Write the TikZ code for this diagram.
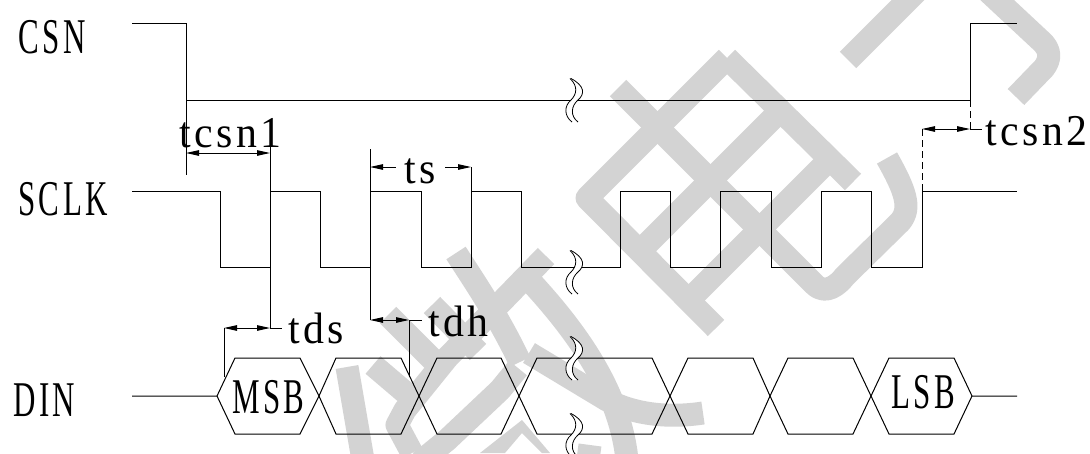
\documentclass[tikz,border=0pt]{standalone}
\usepackage{fontspec}
\usetikzlibrary{arrows.meta}
\newfontfamily\wavefont[FakeStretch=0.62,LetterSpace=7]{Liberation Serif}
\newfontfamily\namefont[FakeStretch=0.95,LetterSpace=8]{Liberation Serif}
\newcommand{\biglabel}{\wavefont\fontsize{50}{50}\selectfont}
\newcommand{\timelabel}{\namefont\fontsize{44}{44}\selectfont}
\definecolor{wmgray}{RGB}{211,211,211}

\begin{document}
\begin{tikzpicture}[
    x=1pt,
    y=-1pt,
    >={Triangle[length=13pt,width=5.5pt]},
    signal/.style={line width=1pt, line join=miter},
    helper/.style={line width=1pt},
    helperdash/.style={line width=1pt, dash pattern=on 7pt off 4pt},
    timing/.style={line width=1pt, <->},
    squiggle/.style={line width=0.8pt},
    wmstroke/.style={line width=23pt, draw=wmgray, line join=round},
    siglabel/.style={anchor=base west, inner sep=0, font=\biglabel},
    tlabel/.style={anchor=base west, inner sep=0, font=\timelabel}
    ]
    \useasboundingbox (0,0) rectangle (1090,453);

    \begin{scope}
    \clip (0,0) rectangle (1090,453);
    \draw[wmstroke] (848,60) -- (925,-17);
    \draw[wmstroke] (980,-16) -- (1040,40) .. controls (1052,50) and (1050,60) .. (1044,68) -- (1016,97);
    \draw[wmstroke] (727,58) -- (587,198) -- (716,328);
    \draw[wmstroke] (727,58) -- (853,182);
    \draw[wmstroke] (640,251) -- (780,111);
    \draw[wmstroke] (689,300) -- (829,160);
    \draw[wmstroke] (618,88) -- (815,285) .. controls (826,295) and (838,285) .. (845,276) -- (900,222) .. controls (912,208) and (905,190) .. (887,158);
    \draw[wmstroke] (456,253) .. controls (480,290) and (500,320) .. (520,362);
    \draw[wmstroke] (546,256) -- (447,358) -- (405,410) -- (397,425) -- (412,453);
    \draw[wmstroke] (532,283) .. controls (575,330) and (620,390) .. (627,460);
    \draw[wmstroke] (529,353) -- (607,400) .. controls (635,415) and (670,418) .. (703,413);
    \draw[wmstroke] (388,315) -- (445,372);
    \draw[wmstroke] (432,305) -- (478,352);
    \draw[wmstroke] (347,367) -- (363,460);
    \draw[wmstroke] (373,365) -- (420,405);
    \draw[wmstroke] (420,462) -- (447,440) -- (500,390) -- (518,368);
    \fill[wmgray] (480,453) -- (522,420) -- (550,453) -- (542,453) -- (522,433) -- (505,453) -- cycle;
    \draw[wmstroke] (590,445) -- (588,460);
    \end{scope}

    \coordinate (csnfall) at (186,23);
    \coordinate (csnrise) at (970,100);
    \coordinate (clkA) at (270,147);
    \coordinate (clkB) at (370,149);
    \coordinate (clkC) at (471,167);
    \coordinate (clkend) at (922,191);

    \draw[signal] (132,23) -- (csnfall) -- (186,175);
    \draw[signal] (186,100) -- (csnrise) -- (970,23) -- (1017,23);
    \draw[signal] (132,191) -- (220,191) -- (220,267) -- (270,267) -- (270,191) -- (320,191) -- (320,267) -- (370,267)
        -- (370,191) -- (421,191) -- (421,267) -- (471,267) -- (471,191) -- (521,191) -- (521,267) -- (620,267)
        -- (620,191) -- (670,191) -- (670,267) -- (720,267) -- (720,191) -- (771,191) -- (771,267) -- (821,267)
        -- (821,191) -- (871,191) -- (871,267) -- (922,267) -- (clkend) -- (1017,191);

    \draw[signal] (132,396) -- (217,396) -- (235,358) -- (300,358) -- (319,396) -- (336,358) -- (401,358) -- (419,396)
        -- (437,358) -- (501,358) -- (519,396) -- (537,358) -- (652,358) -- (670,396) -- (688,358) -- (753,358)
        -- (770,396) -- (788,358) -- (853,358) -- (871,396) -- (889,358) -- (954,358) -- (972,396) -- (1017,396);
    \draw[signal] (217,396) -- (235,434) -- (300,434) -- (319,396) -- (336,434) -- (401,434) -- (419,396)
        -- (437,434) -- (501,434) -- (519,396) -- (537,434) -- (652,434) -- (670,396) -- (688,434) -- (753,434)
        -- (770,396) -- (788,434) -- (853,434) -- (871,396) -- (889,434) -- (954,434) -- (972,396);

    \foreach \cy in {100,272,358,435} {
      \fill[white] (570,\cy-21.5) .. controls (578,\cy-14) and (577,\cy-6) .. (571,\cy) .. controls (564,\cy+6) and (564,\cy+16) .. (572,\cy+22)
        -- (578,\cy+22) .. controls (570,\cy+16) and (571,\cy+6) .. (578,\cy) .. controls (585,\cy-6) and (585,\cy-14) .. (571,\cy-21.5) -- cycle;
      \draw[squiggle] (570,\cy-21.5) .. controls (578,\cy-14) and (577,\cy-6) .. (571,\cy) .. controls (564,\cy+6) and (564,\cy+16) .. (572,\cy+22);
      \draw[squiggle] (571,\cy-21.5) .. controls (585,\cy-14) and (585,\cy-6) .. (578,\cy) .. controls (571,\cy+6) and (570,\cy+16) .. (578,\cy+22);
    }

    \draw[helper] (clkA) -- (270,328);
    \draw[helper] (clkB) -- (370,320);
    \draw[helper] (clkC) -- (471,191);
    \draw[helper] (224,377) -- (224,328);
    \draw[helper] (409,377) -- (409,320);
    \draw[helperdash] (csnrise) -- (970,129);
    \draw[helperdash] (922,129) -- (clkend);

    \node[siglabel] (csn) at (18,53) {CSN};
    \node[siglabel] (sclk) at (18,215) {SCLK};
    \node[siglabel] (din) at (13,416) {DIN};
    \node[siglabel] (msb) at (232,413) {MSB};
    \node[siglabel] (lsb) at (891,408) {LSB};
    \node[tlabel] (tcsn1) at (179,147) {tcsn1};
    \node[tlabel] (ts) at (404,183) {ts};
    \node[tlabel] (tds) at (288,343) {tds};
    \node[tlabel] (tdh) at (428,336) {tdh};
    \node[tlabel] (tcsn2) at (985,145) {tcsn2};

    \draw[timing] (186,153) -- (270,153);
    \draw[timing] (224,328) -- (270,328);
    \draw[helper] (270,328) -- (282,328);
    \draw[timing] (370,320) -- (409,320);
    \draw[helper] (409,320) -- (422,320);
    \draw[timing] (922,129) -- (970,129);
    \draw[helper] (970,129) -- (982,129);
    \draw[helper, <-] (370,167) -- (396,167);
    \draw[helper, <-] (471,167) -- (445,167);
\end{tikzpicture}
\end{document}
